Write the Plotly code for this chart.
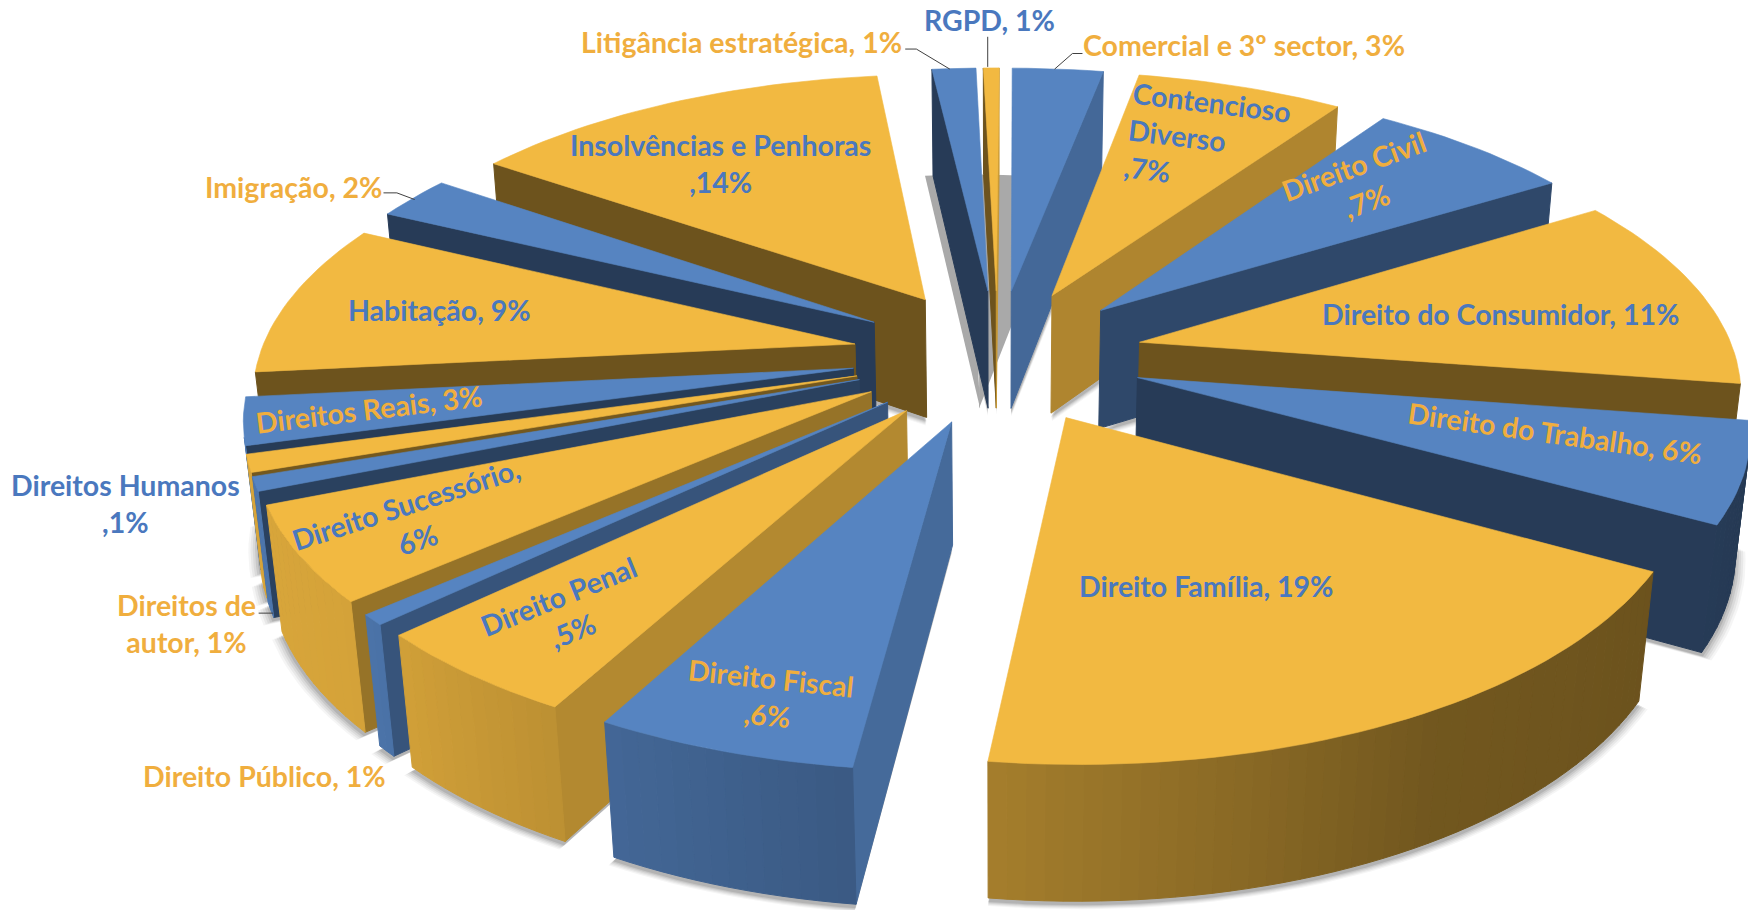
import math
import plotly.graph_objects as go

CATEGORIES = ["Comercial e 3º sector", "Contencioso Diverso", "Direito Civil", "Direito do Consumidor",
              "Direito do Trabalho", "Direito Família", "Direito Fiscal", "Direito Penal", "Direito Público",
              "Direito Sucessório", "Direitos de autor", "Direitos Humanos", "Direitos Reais", "Habitação",
              "Imigração", "Insolvências e Penhoras", "Litigância estratégica", "RGPD"]
VALUES = [2.9, 6.6, 6.6, 11.2, 5.7, 18.9, 5.9, 5.0, 0.6, 5.4, 0.8, 1.0, 2.7, 8.8, 2.5, 13.5, 1.4, 0.5]
LABELS = ["Comercial e 3º sector, 3%", "Contencioso<br>Diverso<br>,7%", "Direito Civil<br>,7%",
          "Direito do Consumidor, 11%", "Direito do Trabalho, 6%", "Direito Família, 19%",
          "Direito Fiscal<br>,6%", "Direito Penal<br>,5%", "Direito Público, 1%",
          "Direito Sucessório,<br>6%", "Direitos de<br>autor, 1%", "Direitos Humanos<br>,1%",
          "Direitos Reais, 3%", "Habitação, 9%", "Imigração, 2%", "Insolvências e Penhoras<br>,14%",
          "Litigância estratégica, 1%", "RGPD, 1%"]

# --- layout of the exploded 3-D pie (pixel units of the 1748x910 canvas)
S = 1748 / 1568
CX, CY, FX, FY, DEPTH = 895 * S, 319 * S, 534 * S, 246 * S, 110 * S
PERSP, PERSP_Z, PULL, START = 0.15, 0.02, 0.245, 0.3
BLUE, YELLOW = (0x56, 0x84, 0xC1), (0xF2, 0xB9, 0x41)
TXT_BLUE, TXT_YELLOW = "#4A78BE", "#F0AE3E"

# label placement: centre x, y (reference scale), rotation, align
LABEL_PLACE = [(1116, 40, 0, "center"), (1083, 125, 7, "left"), (1220, 165, -20, "center"),
               (1346, 282, 0, "center"), (1395, 388, 8, "center"), (1082, 526, 0, "center"),
               (690, 625, 6, "center"), (507, 550, -22, "center"), (237, 696, 0, "center"),
               (370, 468, -18, "center"), (167, 559, 0, "center"), (113, 452, 0, "center"),
               (331, 367, -7, "center"), (394, 278, 0, "center"), (263, 168, 0, "center"),
               (646, 147, 0, "center"), (665, 38, 0, "center"), (888, 18, 0, "center")]
LEADERS = [[(812, 44), (822, 44), (852, 62)], [(886, 33), (886, 60)], [(971, 48), (962, 48), (946, 62)],
           [(344, 173), (356, 173), (372, 179)], [(232, 550), (245, 550)]]


def interp(v, xs, ys):
    if v <= xs[0]:
        return ys[0]
    for i in range(1, len(xs)):
        if v <= xs[i]:
            return ys[i - 1] + (ys[i] - ys[i - 1]) * (v - xs[i - 1]) / (xs[i] - xs[i - 1])
    return ys[-1]


def project(X, Y, Z):
    w = 1 + PERSP * Y + PERSP_Z * Z
    return CX + FX * X / w, CY - FY * Y / w + DEPTH * Z / w


def col(base, f):
    return "rgb(%d,%d,%d)" % tuple(round(c * f) for c in base)


total = sum(VALUES)
fig = go.Figure()


def poly(pts, fill, name=None, lw=1.0):
    xs = [p[0] for p in pts] + [pts[0][0]]
    ys = [p[1] for p in pts] + [pts[0][1]]
    fig.add_trace(go.Scatter(x=xs, y=ys, mode="lines", fill="toself", fillcolor=fill,
                             line=dict(color=fill, width=lw), showlegend=False,
                             hoverinfo="text" if name else "skip", text=name))


slices = []
ang = START
for i, v in enumerate(VALUES):
    span = v / total * 360
    a0, a1 = ang, ang + span
    ang = a1
    am = math.radians((a0 + a1) / 2)
    px, py = PULL * math.sin(am), PULL * math.cos(am)
    n = max(2, int(span / 1.5))
    thetas = [a0 + (a1 - a0) * k / n for k in range(n + 1)]
    ring = [(px, py)] + [(px + math.sin(math.radians(t)), py + math.cos(math.radians(t))) for t in thetas]
    slices.append(dict(i=i, a0=a0, a1=a1, thetas=thetas, ring=ring, key=math.cos(am)))

# soft shadows under the pieces
for sc, dy, al in [(1.014, 8, 0.04), (1.011, 7, 0.05), (1.008, 6, 0.06), (1.005, 5, 0.08), (1.002, 4, 0.10)]:
    for s in slices:
        pts = [project(X, Y, 1) for X, Y in s["ring"]]
        poly([(CX + (x - CX) * sc, y + dy) for x, y in pts], "rgba(0,0,0,%.2f)" % al, lw=0)

# the grey cast shadows seen through the gaps at the back
for idx, dx in [(0, -32), (16, -8)]:
    pts = [project(X, Y, 1) for X, Y in slices[idx]["ring"]]
    poly([(x + dx, y) for x, y in pts], "#A9A9A9", lw=0)

for s in sorted(slices, key=lambda d: -d["key"]):
    base = BLUE if s["i"] % 2 == 0 else YELLOW
    ring = s["ring"]
    m = len(ring)
    for e in range(m):
        A, B = ring[e], ring[(e + 1) % m]
        q = [project(A[0], A[1], 0), project(B[0], B[1], 0), project(B[0], B[1], 1), project(A[0], A[1], 1)]
        area = sum(q[k][0] * q[(k + 1) % 4][1] - q[(k + 1) % 4][0] * q[k][1] for k in range(4))
        if area >= 0:
            continue
        if e == 0:
            normal = s["a0"] - 90
            f = interp(normal % 360, [90, 125, 148, 165], [0.82, 0.72, 0.55, 0.45])
        elif e == m - 1:
            normal = s["a1"] + 90
            f = interp(normal % 360, [90, 125, 148, 165], [0.82, 0.72, 0.55, 0.45])
        else:
            t = (s["thetas"][e - 1] + s["thetas"][e]) / 2
            f = interp(t, [100, 150, 187, 230, 260], [0.43, 0.47, 0.68, 0.88, 0.9])
        poly(q, col(base, f))
    poly([project(X, Y, 0) for X, Y in ring], col(base, 1.0), name=CATEGORIES[s["i"]], lw=0.6)

for path in LEADERS:
    fig.add_trace(go.Scatter(x=[p[0] * S for p in path], y=[p[1] * S for p in path], mode="lines",
                             line=dict(color="#404040", width=1), showlegend=False, hoverinfo="skip"))

for i, (label, place) in enumerate(zip(LABELS, LABEL_PLACE)):
    fig.add_annotation(x=place[0] * S, y=place[1] * S, text="<b>%s</b>" % label, showarrow=False,
                       textangle=place[2], align=place[3], xanchor="center", yanchor="middle",
                       font=dict(family="Lato", size=28.5, color=TXT_BLUE if i % 2 else TXT_YELLOW))

fig.update_layout(width=1748, height=910, margin=dict(l=0, r=0, t=0, b=0), paper_bgcolor="white",
                  plot_bgcolor="white", showlegend=False,
                  xaxis=dict(range=[0, 1748], visible=False, fixedrange=True),
                  yaxis=dict(range=[910, 0], visible=False, fixedrange=True))
fig.write_html("out.html", post_script="document.body.style.margin='0';document.body.style.overflow='hidden';",
               config=dict(displayModeBar=False))
